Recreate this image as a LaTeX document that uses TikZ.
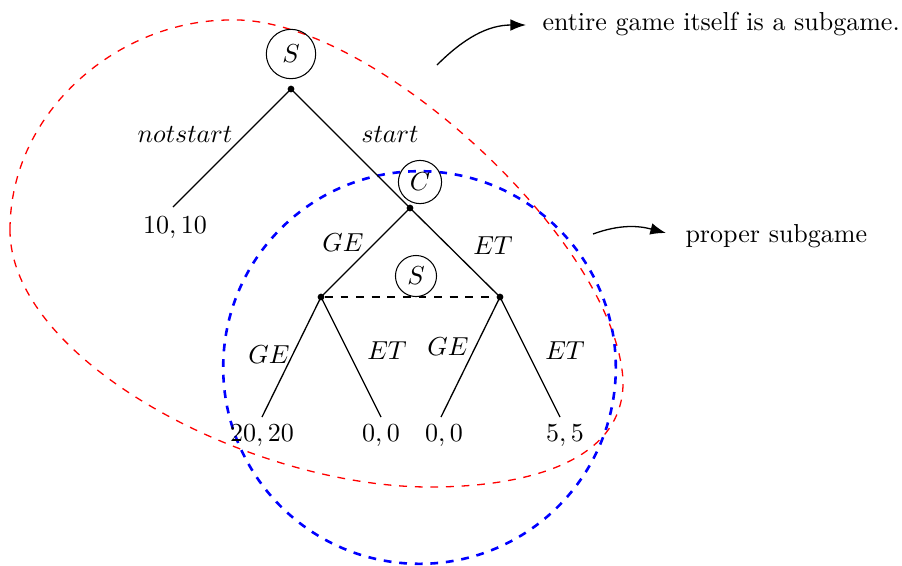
\documentclass[tikz,border=0pt]{standalone}
\usetikzlibrary{arrows.meta}
\begin{document}
\begin{tikzpicture}[x=0.3846pt,y=-0.3846pt,
  dot/.style={circle,fill=black,inner sep=0pt,minimum size=2.6pt},
  player/.style={circle,draw,inner sep=2.2pt},
  bigplayer/.style={circle,draw},
  lab/.style={inner sep=0pt},
  edge/.style={line width=0.5pt},
  note/.style={-{Latex[length=6pt,width=4.5pt]},line width=0.5pt}]
\useasboundingbox (0,0) rectangle (902,565);
% red subgame curve
\draw[red,dashed,line width=0.5pt] (10,230)
  .. controls (10,110) and (120,20) .. (230,20)
  .. controls (370,15) and (615,240) .. (623,380)
  .. controls (625,460) and (530,487) .. (430,487)
  .. controls (250,487) and (10,360) .. cycle;
% blue proper subgame circle
\coordinate (bc) at (419.5,367.5);
\draw[blue,dashed,line width=1pt] (bc) circle[radius=75.5pt];
% tree
\node[bigplayer] (Sl) at (291,54) {$S$};
\node[dot] (root) at (291,89) {};
\coordinate (l1) at (173,207);
\node[lab,anchor=north] (p1) at (175,216) {$10,10$};
\node[dot] (c) at (410,208) {};
\node[player] (Cl) at (420,182) {$C$};
\node[dot] (a) at (321,297) {};
\node[dot] (b) at (500,297) {};
\node[player] (S2) at (416,276) {$S$};
\coordinate (l2) at (262,417);
\coordinate (l3) at (381,417);
\coordinate (l4) at (441,417);
\coordinate (l5) at (560,417);
\node[lab] (p2) at (262,436) {$20,20$};
\node[lab] (p3) at (381,436) {$0,0$};
\node[lab] (p4) at (444,436) {$0,0$};
\node[lab] (p5) at (565,436) {$5,5$};
\draw[edge] (root.center) -- (l1);
\draw[edge] (root.center) -- (c.center);
\draw[edge] (c.center) -- (a.center);
\draw[edge] (c.center) -- (b.center);
\draw[edge] (a.center) -- (l2);
\draw[edge] (a.center) -- (l3);
\draw[edge] (b.center) -- (l4);
\draw[edge] (b.center) -- (l5);
\draw[edge,dashed] (a) -- (b);
\node[lab] (e1) at (185,134) {$notstart$};
\node[lab] (e2) at (390,134) {$start$};
\node[lab] (e3) at (343,243) {$GE$};
\node[lab] (e4) at (493,246) {$ET$};
\node[lab] (e5) at (269,355) {$GE$};
\node[lab] (e6) at (387,351) {$ET$};
\node[lab] (e7) at (448,347) {$GE$};
\node[lab] (e8) at (565,351) {$ET$};
% annotations
\coordinate (n1s) at (437,65);
\coordinate (n1e) at (526,25);
\node[lab,anchor=west] (n1) at (542,24) {entire game itself is a subgame.};
\draw[note] (n1s) to[out=45,in=180] (n1e);
\coordinate (n2s) at (593,234);
\coordinate (n2e) at (666,233);
\node[lab,anchor=west] (n2) at (685,236) {proper subgame};
\draw[note] (n2s) to[out=20,in=165] (n2e);
\end{tikzpicture}
\end{document}
